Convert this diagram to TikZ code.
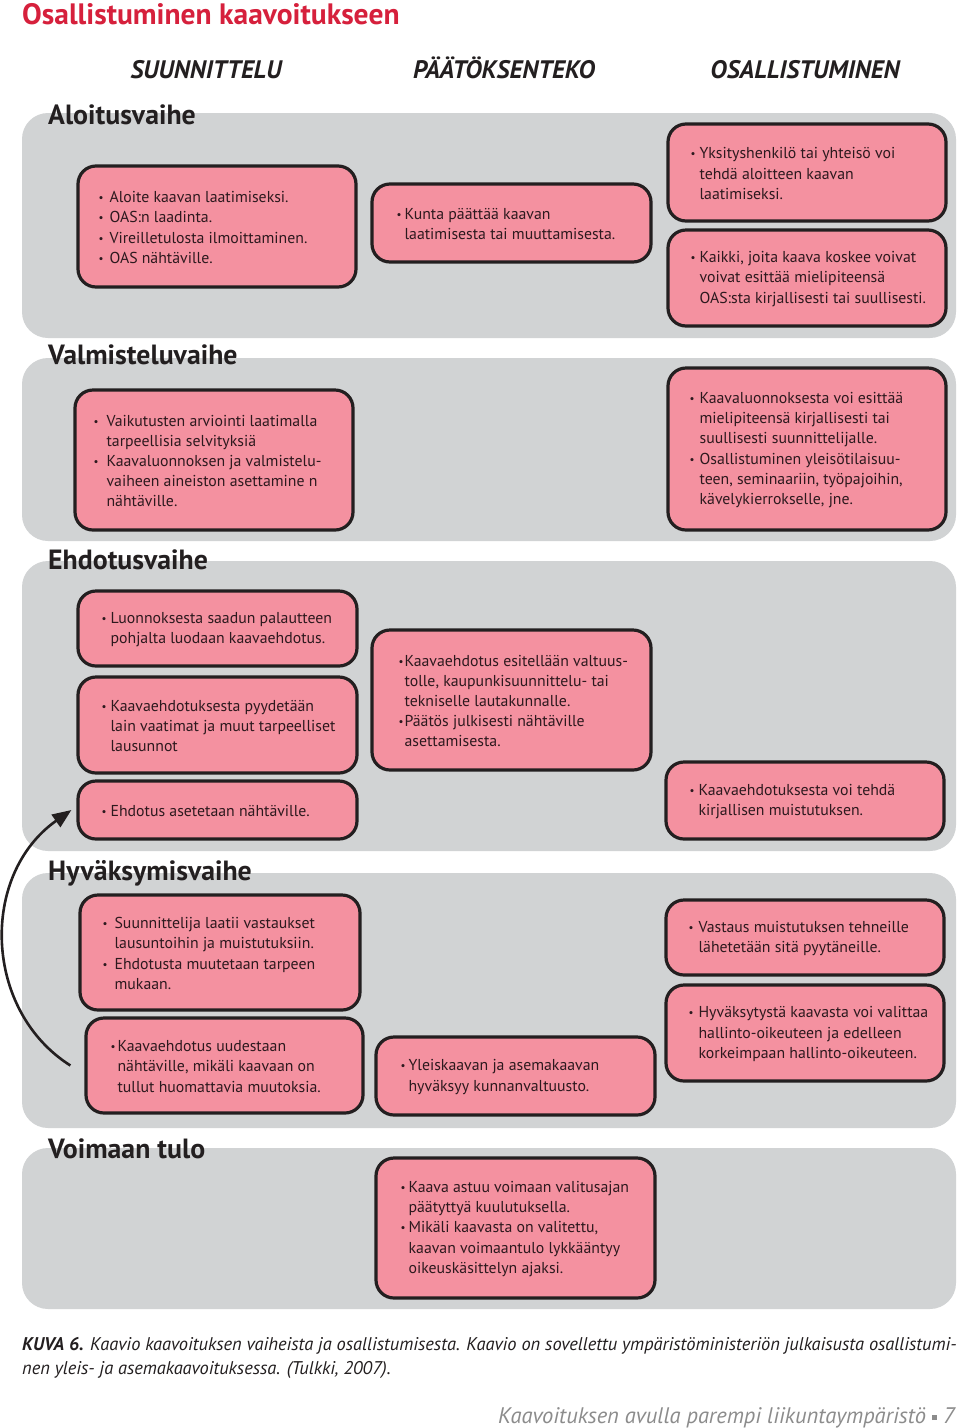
\documentclass[tikz,border=0pt]{standalone}
\usepackage{fontspec}
\setmainfont{PT Sans}
\usetikzlibrary{arrows.meta,fit}
\definecolor{pinkf}{RGB}{244,145,160}
\definecolor{panelg}{RGB}{209,211,212}
\definecolor{titred}{RGB}{214,32,60}
\definecolor{dark}{RGB}{35,31,32}
\definecolor{boxtxt}{RGB}{45,25,30}
\definecolor{footg}{RGB}{140,140,140}
\newcommand\bul[1][9pt]{\makebox[#1][l]{\raisebox{1pt}{\fontsize{11}{11}\selectfont\textbullet}}}
\newcommand\ind[1][9pt]{\hspace*{#1}}
\begin{document}
\begin{tikzpicture}[x=1pt,y=-1pt,
 panel/.style={fill=panelg, rounded corners=26pt},
 pbox/.style={draw=dark, line width=3.2pt, fill=pinkf, rounded corners=18pt, inner sep=0pt},
 btxt/.style={anchor=west, align=left, inner sep=0pt, text=boxtxt, font=\fontsize{15.8}{20.2}\selectfont},
 phase/.style={anchor=base west, inner sep=0pt, text=dark, font=\fontsize{27.8}{30}\selectfont\bfseries},
 colh/.style={anchor=base, inner sep=0pt, text=dark, font=\fontsize{25.3}{28}\selectfont\bfseries\itshape},
 arr/.style={-{Triangle[length=19pt,width=15pt]}, line width=2.6pt, draw=dark},
]
\useasboundingbox (0,0) rectangle (960,1428);
\fill[white] (0,0) rectangle (960,1428);

% title and column heads
\node[anchor=base west, inner sep=0pt, text=titred, font=\fontsize{29.5}{32}\selectfont\bfseries] (title) at (22,24) {Osallistuminen kaavoitukseen};
\node[colh] (h1) at (206,78) {SUUNNITTELU};
\node[colh] (h2c) at (504,78) {PÄÄTÖKSENTEKO};
\node[colh] (h3c) at (805,78) {OSALLISTUMINEN};

% panels
\path[panel] (22,113) rectangle (956,338);
\path[panel] (22,358) rectangle (956,541);
\path[panel] (22,561) rectangle (956,851);
\path[panel] (22,873) rectangle (956,1128);
\path[panel] (22,1148) rectangle (956,1309);

\node[phase] (p1) at (48,124) {Aloitusvaihe};
\node[phase] (p2) at (48,364) {Valmisteluvaihe};
\node[phase] (p3) at (48,569) {Ehdotusvaihe};
\node[phase] (p4) at (48,880) {Hyväksymisvaihe};
\node[phase] (p5) at (48,1158) {Voimaan tulo};

% Aloitusvaihe
\node[pbox, fit={(78,166) (356,287)}] (a1) {};
\node[btxt] (a1t) at ([xshift=22pt,yshift=-1pt]a1.west) {\bul[11pt]Aloite kaavan laatimiseksi.\\\bul[11pt]OAS:n laadinta.\\\bul[11pt]Vireilletulosta ilmoittaminen.\\\bul[11pt]OAS nähtäville.};
\node[pbox, fit={(372,184) (651,262)}] (a2) {};
\node[btxt] (a2t) at ([xshift=26pt,yshift=-1pt]a2.west) {\bul[8pt]Kunta päättää kaavan\\\ind[8pt]laatimisesta tai muuttamisesta.};
\node[pbox, fit={(668,124) (946,221)}] (a3) {};
\node[btxt] (a3t) at ([xshift=24pt,yshift=-1pt]a3.west) {\bul[9pt]Yksityshenkilö tai yhteisö voi\\\ind[9pt]tehdä aloitteen kaavan\\\ind[9pt]laatimiseksi.};
\node[pbox, fit={(668,230) (946,326)}] (a4) {};
\node[btxt] (a4t) at ([xshift=24pt,yshift=-1pt]a4.west) {\bul[9pt]Kaikki, joita kaava koskee voivat\\\ind[9pt]voivat esittää mielipiteensä\\\ind[9pt]OAS:sta kirjallisesti tai suullisesti.};

% Valmisteluvaihe
\node[pbox, fit={(75,390) (353,530)}] (v1) {};
\node[btxt] (v1t) at ([xshift=20pt,yshift=-1pt]v1.west) {\bul[13pt]Vaikutusten arviointi laatimalla\\\ind[13pt]tarpeellisia selvityksiä\\\bul[13pt]Kaavaluonnoksen ja valmistelu-\\\ind[13pt]vaiheen aineiston asettamine n\\\ind[13pt]nähtäville.};
\node[pbox, fit={(668,368) (946,530)}] (v2) {};
\node[btxt] (v2t) at ([xshift=23pt,yshift=-1pt]v2.west) {\bul[10pt]Kaavaluonnoksesta voi esittää\\\ind[10pt]mielipiteensä kirjallisesti tai\\\ind[10pt]suullisesti suunnittelijalle.\\\bul[10pt]Osallistuminen yleisötilaisuu-\\\ind[10pt]teen, seminaariin, työpajoihin,\\\ind[10pt]kävelykierrokselle, jne.};

% Ehdotusvaihe
\node[pbox, fit={(78,591) (357,666)}] (e1) {};
\node[btxt] (e1t) at ([xshift=25pt,yshift=-1pt]e1.west) {\bul[9pt]Luonnoksesta saadun palautteen\\\ind[9pt]pohjalta luodaan kaavaehdotus.};
\node[pbox, fit={(78,677) (357,773)}] (e2) {};
\node[btxt] (e2t) at ([xshift=25pt,yshift=-1pt]e2.west) {\bul[9pt]Kaavaehdotuksesta pyydetään\\\ind[9pt]lain vaatimat ja muut tarpeelliset\\\ind[9pt]lausunnot};
\node[pbox, fit={(372,630) (651,770)}] (e3) {};
\node[btxt] (e3t) at ([xshift=28pt,yshift=-1pt]e3.west) {\bul[6pt]Kaavaehdotus esitellään valtuus-\\\ind[6pt]tolle, kaupunkisuunnittelu- tai\\\ind[6pt]tekniselle lautakunnalle.\\\bul[6pt]Päätös julkisesti nähtäville\\\ind[6pt]asettamisesta.};
\node[pbox, fit={(78,781) (357,839)}] (e4) {};
\node[btxt] (e4t) at ([xshift=25pt,yshift=-1pt]e4.west) {\bul[9pt]Ehdotus asetetaan nähtäville.};
\node[pbox, fit={(666,762) (944,839)}] (e5) {};
\node[btxt] (e5t) at ([xshift=25pt,yshift=-1pt]e5.west) {\bul[9pt]Kaavaehdotuksesta voi tehdä\\\ind[9pt]kirjallisen muistutuksen.};

% Hyväksymisvaihe
\node[pbox, fit={(80,895) (360,1010)}] (k1) {};
\node[btxt] (k1t) at ([xshift=24pt,yshift=-1pt]k1.west) {\bul[12pt]Suunnittelija laatii vastaukset\\\ind[12pt]lausuntoihin ja muistutuksiin.\\\bul[12pt]Ehdotusta muutetaan tarpeen\\\ind[12pt]mukaan.};
\node[pbox, fit={(86,1018) (363,1113)}] (k2) {};
\node[btxt] (k2t) at ([xshift=26pt,yshift=-1pt]k2.west) {\bul[7pt]Kaavaehdotus uudestaan\\\ind[7pt]nähtäville, mikäli kaavaan on\\\ind[7pt]tullut huomattavia muutoksia.};
\node[pbox, fit={(376,1037) (655,1115)}] (k3) {};
\node[btxt] (k3t) at ([xshift=26pt,yshift=-1pt]k3.west) {\bul[8pt]Yleiskaavan ja asemakaavan\\\ind[8pt]hyväksyy kunnanvaltuusto.};
\node[pbox, fit={(666,900) (944,975)}] (k4) {};
\node[btxt] (k4t) at ([xshift=24pt,yshift=-1pt]k4.west) {\bul[10pt]Vastaus muistutuksen tehneille\\\ind[10pt]lähetetään sitä pyytäneille.};
\node[pbox, fit={(666,985) (944,1081)}] (k5) {};
\node[btxt] (k5t) at ([xshift=24pt,yshift=-1pt]k5.west) {\bul[10pt]Hyväksytystä kaavasta voi valittaa\\\ind[10pt]hallinto-oikeuteen ja edelleen\\\ind[10pt]korkeimpaan hallinto-oikeuteen.};

% Voimaan tulo
\node[pbox, fit={(376,1158) (655,1298)}] (w1) {};
\node[btxt] (w1t) at ([xshift=26pt,yshift=-1pt]w1.west) {\bul[8pt]Kaava astuu voimaan valitusajan\\\ind[8pt]päätyttyä kuulutuksella.\\\bul[8pt]Mikäli kaavasta on valitettu,\\\ind[8pt]kaavan voimaantulo lykkääntyy\\\ind[8pt]oikeuskäsittelyn ajaksi.};

% arrow
\coordinate (as) at ([xshift=-14pt]k2.west);
\coordinate (ae) at ([xshift=-5pt]e4.west);
\draw[arr] (as) .. controls +(-87,-55) and +(-92,65) .. (ae);

% caption
\node[anchor=north west, inner sep=0pt, text=dark, align=left, font=\fontsize{18.4}{24}\selectfont\itshape] (cap) at (22,1337) {\textbf{KUVA 6.} Kaavio kaavoituksen vaiheista ja osallistumisesta. Kaavio on sovellettu ympäristöministeriön julkaisusta osallistumi-\\nen yleis- ja asemakaavoituksessa. (Tulkki, 2007).};
\node[anchor=base east, inner sep=0pt, text=footg, font=\fontsize{22.5}{26}\selectfont\itshape] (foot) at (955,1423) {Kaavoituksen avulla parempi liikuntaympäristö \raisebox{3pt}{\rule{5pt}{5pt}} 7};
\end{tikzpicture}
\end{document}
